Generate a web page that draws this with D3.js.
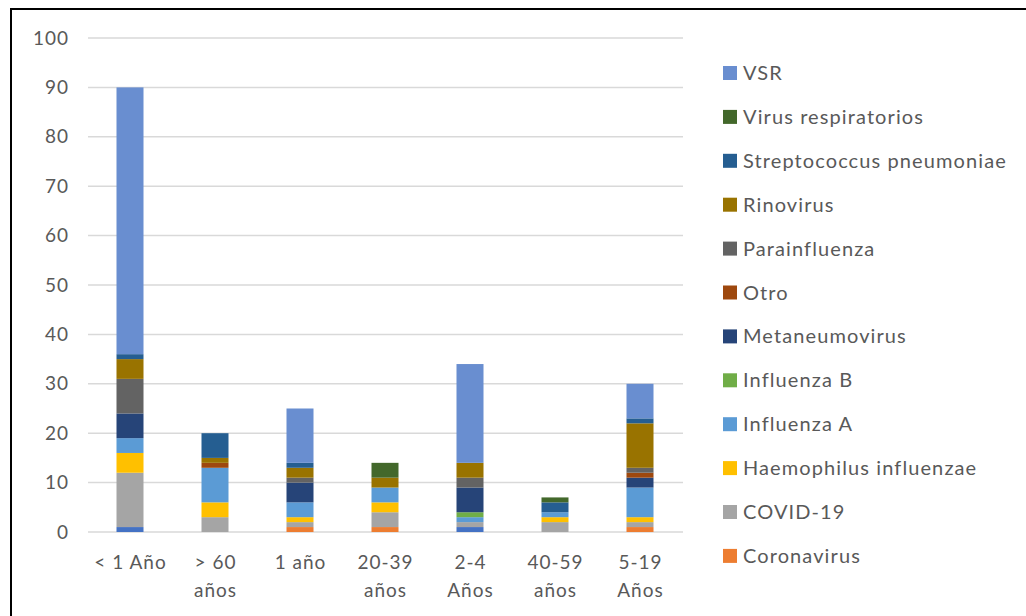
<!DOCTYPE html>
<html>
<head>
<meta charset="utf-8">
<script src="https://cdn.jsdelivr.net/npm/d3@7"></script>
<style>
  body { margin: 0; background: #fff; }
  svg { display: block; font-family: Lato, "Open Sans", sans-serif; }
</style>
</head>
<body>
<div id="chart"></div>
<script>
// Age groups on the x axis (two-line labels)
var categories = ["< 1 Año", "> 60 años", "1 año", "20-39 años", "2-4 Años", "40-59 años", "5-19 Años"];
var catLines = [["< 1 Año"], ["> 60", "años"], ["1 año"], ["20-39", "años"], ["2-4", "Años"], ["40-59", "años"], ["5-19", "Años"]];

// Series, stacked bottom to top (first one is not in the visible legend)
var seriesNames = ["Adenovirus", "Coronavirus", "COVID-19", "Haemophilus influenzae", "Influenza A", "Influenza B",
  "Metaneumovirus", "Otro", "Parainfluenza", "Rinovirus", "Streptococcus pneumoniae", "Virus respiratorios", "VSR"];
var seriesColors = ["#4472C4", "#ED7D31", "#A5A5A5", "#FFC000", "#5B9BD5", "#70AD47",
  "#264478", "#9E480E", "#636363", "#997300", "#255E91", "#43682B", "#698ED0"];

// values per series, in category order
var adenovirus   = [1, 0, 0, 0, 1, 0, 0];
var coronavirus  = [0, 0, 1, 1, 0, 0, 1];
var covid19      = [11, 3, 1, 3, 1, 2, 1];
var haemophilus  = [4, 3, 1, 2, 0, 1, 1];
var influenzaA   = [3, 7, 3, 3, 1, 1, 6];
var influenzaB   = [0, 0, 0, 0, 1, 0, 0];
var metaneumo    = [5, 0, 4, 0, 5, 0, 2];
var otro         = [0, 1, 0, 0, 0, 0, 1];
var parainfl     = [7, 0, 1, 0, 2, 0, 1];
var rinovirus    = [4, 1, 2, 2, 3, 0, 9];
var strepto      = [1, 5, 1, 0, 0, 2, 1];
var virusResp    = [0, 0, 0, 3, 0, 1, 0];
var vsr          = [54, 0, 11, 0, 20, 0, 7];

var yTicks = [0, 10, 20, 30, 40, 50, 60, 70, 80, 90, 100];

var allValues = [adenovirus, coronavirus, covid19, haemophilus, influenzaA, influenzaB,
  metaneumo, otro, parainfl, rinovirus, strepto, virusResp, vsr];

var width = 1026, height = 616;

// build rows for d3.stack
var rows = categories.map(function(c, i) {
  var r = { cat: c };
  seriesNames.forEach(function(s, k) { r[s] = allValues[k][i]; });
  return r;
});

var svg = d3.select("#chart").append("svg")
  .attr("width", width)
  .attr("height", height);

// outer frame (runs off the right and bottom edges)
svg.append("rect")
  .attr("x", 11).attr("y", 9)
  .attr("width", 1040).attr("height", 640)
  .attr("fill", "none")
  .attr("stroke", "#000")
  .attr("stroke-width", 2);

var x = d3.scaleBand().domain(categories).range([87.5, 682.5]);
var y = d3.scaleLinear().domain([0, 100]).range([532, 38]);
var barW = 27;

// gridlines
svg.append("g").selectAll("line")
  .data(yTicks)
  .enter().append("line")
  .attr("x1", 88).attr("x2", 683)
  .attr("y1", function(d) { return y(d); })
  .attr("y2", function(d) { return y(d); })
  .attr("stroke", "#d9d9d9")
  .attr("stroke-width", 1.5);

// y tick labels
svg.append("g").selectAll("text")
  .data(yTicks)
  .enter().append("text")
  .attr("x", 69)
  .attr("y", function(d) { return y(d); })
  .attr("dy", "0.35em")
  .attr("text-anchor", "end")
  .attr("font-size", 19)
  .attr("letter-spacing", 1)
  .attr("fill", "#595959")
  .text(function(d) { return d; });

// stacked bars
var stack = d3.stack().keys(seriesNames);
var layers = stack(rows);

svg.append("g").selectAll("g")
  .data(layers)
  .enter().append("g")
  .attr("fill", function(d, i) { return seriesColors[i]; })
  .selectAll("rect")
  .data(function(d) { return d; })
  .enter().append("rect")
  .attr("x", function(d) { return x(d.data.cat) + x.bandwidth() / 2 - barW / 2; })
  .attr("width", barW)
  .attr("y", function(d) { return y(d[1]); })
  .attr("height", function(d) { return y(d[0]) - y(d[1]); });

// x labels
var xl = svg.append("g").selectAll("text")
  .data(categories)
  .enter().append("text")
  .attr("x", function(d) { return x(d) + x.bandwidth() / 2 + 0.5; })
  .attr("y", 569)
  .attr("text-anchor", "middle")
  .attr("font-size", 19)
  .attr("letter-spacing", 1)
  .attr("fill", "#595959");

xl.selectAll("tspan")
  .data(function(d, i) { return catLines[i]; })
  .enter().append("tspan")
  .attr("x", function() { return d3.select(this.parentNode).attr("x"); })
  .attr("dy", function(d, j) { return j === 0 ? 0 : 28; })
  .text(function(d) { return d; });

// legend: visible entries, top to bottom in reverse order (first series cut off)
var legendItems = seriesNames.slice(1).reverse();
var legend = svg.append("g").selectAll("g")
  .data(legendItems)
  .enter().append("g")
  .attr("transform", function(d, i) { return "translate(723," + (73 + i * 43.9) + ")"; });

legend.append("rect")
  .attr("x", 0).attr("y", -7)
  .attr("width", 14).attr("height", 14)
  .attr("fill", function(d) { return seriesColors[seriesNames.indexOf(d)]; });

legend.append("text")
  .attr("x", 20)
  .attr("dy", "0.35em")
  .attr("font-size", 20)
  .attr("letter-spacing", 1.1)
  .attr("fill", "#595959")
  .text(function(d) { return d; });
</script>
</body>
</html>
